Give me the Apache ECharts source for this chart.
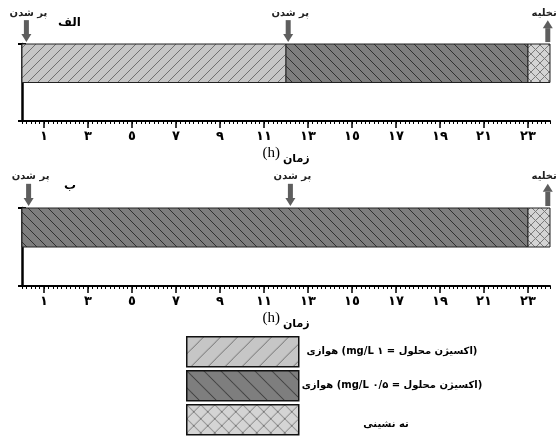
<!DOCTYPE html>
<html>
<head>
<meta charset="utf-8">
<script src="https://cdn.jsdelivr.net/npm/echarts@6/dist/echarts.min.js"></script>
<style>
  html, body { margin: 0; padding: 0; background: #fff; }
  #chart { width: 558px; height: 439px; }
</style>
</head>
<body>
<div id="chart"></div>
<script>
// hours shown on the time axis
const tickHours = [1, 3, 5, 7, 9, 11, 13, 15, 17, 19, 21, 23];
const tickLabels = ['١', '٣', '٥', '٧', '٩', '١١', '١٣', '١٥', '١٧', '١٩', '٢١', '٢٣'];

// panel الف : phases (0 = aerobic 1 mg/L, 1 = aerobic 0.5 mg/L, 2 = settling)
const aStart = [0, 12, 23];
const aEnd = [12, 23, 24];
const aPhase = [0, 1, 2];
// panel ب
const bStart = [0, 23];
const bEnd = [23, 24];
const bPhase = [1, 2];

// events: fill (down arrow) and drain (up arrow)
const aFill = [0.2, 12.1];
const aDrain = [23.9];
const bFill = [0.3, 12.2];
const bDrain = [23.9];

const legendNames = [
    'هوازی (mg/L ۱ = اکسیژن محلول)',
    'هوازی (mg/L ۰/۵ = اکسیژن محلول)',
    'ته نشینی'
];

// hatch patterns drawn on small canvases
function hatch(size, bg, fg, dirs, lw) {
    const c = document.createElement('canvas');
    c.width = size;
    c.height = size;
    const ctx = c.getContext('2d');
    ctx.fillStyle = bg;
    ctx.fillRect(0, 0, size, size);
    ctx.strokeStyle = fg;
    ctx.lineWidth = lw;
    dirs.forEach(d => {
        for (let k = -1; k <= 1; k++) {
            ctx.beginPath();
            if (d === '/') {
                ctx.moveTo(k * size, size);
                ctx.lineTo(k * size + size, 0);
            } else {
                ctx.moveTo(k * size, 0);
                ctx.lineTo(k * size + size, size);
            }
            ctx.stroke();
        }
    });
    return { image: c, repeat: 'repeat' };
}

const patterns = [
    hatch(10, '#c6c6c6', '#707070', ['/'], 1),
    hatch(10, '#7e7e7e', '#303030', ['\\'], 1),
    hatch(9, '#d4d4d4', '#7a7a7a', ['/', '\\'], 1)
];
const bigPatterns = [
    hatch(17, '#c6c6c6', '#6e6e6e', ['/'], 1),
    hatch(17, '#7e7e7e', '#2e2e2e', ['\\'], 1),
    hatch(14, '#d4d4d4', '#7a7a7a', ['/', '\\'], 1)
];

const chart = echarts.init(document.getElementById('chart'));

function segRender(params, api) {
    const p0 = api.coord([api.value(0), 2]);
    const p1 = api.coord([api.value(1), 1]);
    return {
        type: 'rect',
        shape: { x: p0[0], y: p0[1], width: p1[0] - p0[0], height: p1[1] - p0[1] },
        style: { fill: patterns[api.value(2)], stroke: '#222', lineWidth: 1 }
    };
}

function arrowRender(params, api) {
    const up = api.value(1) === 1;
    const top = api.coord([api.value(0), 2.62]);
    const bot = api.coord([api.value(0), 2.05]);
    const x = top[0];
    const head = 8;
    let shaft, tri;
    if (up) {
        shaft = { x: x - 2.5, y: top[1] + head, width: 5, height: bot[1] - top[1] - head };
        tri = [[x - 5, top[1] + head], [x + 5, top[1] + head], [x, top[1]]];
    } else {
        shaft = { x: x - 2.5, y: top[1], width: 5, height: bot[1] - top[1] - head };
        tri = [[x - 5, bot[1] - head], [x + 5, bot[1] - head], [x, bot[1]]];
    }
    return {
        type: 'group',
        children: [
            { type: 'rect', shape: shaft, style: { fill: '#5e5e5e' } },
            { type: 'polygon', shape: { points: tri }, style: { fill: '#5e5e5e' } },
            {
                type: 'text',
                style: {
                    x: up ? x + 9 : x + 2,
                    y: top[1] - 7,
                    text: up ? 'تخلیه' : 'پر شدن',
                    fontFamily: 'DejaVu Sans',
                    fontSize: 10,
                    fontWeight: 'bold',
                    fill: '#222',
                    align: up ? 'right' : 'center',
                    verticalAlign: 'middle'
                }
            }
        ]
    };
}

function mainX(gridIndex) {
    return {
        type: 'value', gridIndex: gridIndex, min: 0, max: 24, interval: 1,
        position: 'bottom',
        name: '{h|(h)}{f|زمان}',
        nameLocation: 'middle',
        nameGap: 21,
        nameTextStyle: {
            rich: {
                h: { fontFamily: 'Liberation Serif', fontSize: 15, color: '#000' },
                f: { fontFamily: 'DejaVu Sans', fontSize: 11, fontWeight: 'bold', color: '#000', padding: [12, 0, 0, 3] }
            }
        },
        axisLine: { show: true, lineStyle: { color: '#000', width: 2 } },
        axisTick: { show: true, length: 3, lineStyle: { color: '#000', width: 1 } },
        minorTick: { show: true, splitNumber: 5, length: 3, lineStyle: { color: '#000', width: 1 } },
        splitLine: { show: false },
        axisLabel: {
            margin: 9,
            fontFamily: 'DejaVu Sans',
            fontSize: 13,
            fontWeight: 'bold',
            color: '#000',
            formatter: v => {
                const i = tickHours.indexOf(v);
                return i >= 0 ? tickLabels[i] : '';
            }
        }
    };
}

function longTickX(gridIndex) {
    return {
        type: 'value', gridIndex: gridIndex, min: 0, max: 24, interval: 1,
        position: 'bottom', offset: 0,
        axisLine: { show: false },
        axisTick: { show: true, customValues: tickHours, length: 7, lineStyle: { color: '#000', width: 1.5 } },
        axisLabel: { show: false },
        splitLine: { show: false }
    };
}

function yAxes(gridIndex) {
    return [{
        type: 'value', gridIndex: gridIndex, min: 0, max: 2, interval: 2,
        position: 'left',
        axisLine: { show: true, lineStyle: { color: '#000', width: 2.5 } },
        axisTick: { show: true, length: 4, lineStyle: { color: '#000', width: 2 } },
        axisLabel: { show: false },
        splitLine: { show: false }
    }, {
        type: 'value', gridIndex: gridIndex, min: 0, max: 2, interval: 2,
        position: 'left', offset: 0,
        axisLine: { show: false },
        axisTick: { show: true, inside: true, length: 4, lineStyle: { color: '#000', width: 2 } },
        axisLabel: { show: false },
        splitLine: { show: false }
    }];
}

const legendTop = [336, 370, 404];
const legendGraphics = [];
legendTop.forEach((t, i) => {
    legendGraphics.push({
        type: 'rect',
        left: 186, top: t,
        shape: { width: 112, height: 30 },
        style: { fill: bigPatterns[i], stroke: '#111', lineWidth: 1.5 }
    });
    legendGraphics.push({
        type: 'text',
        x: i === 2 ? 386 : 392,
        y: t + (i === 2 ? 20 : 15),
        style: {
            text: legendNames[i],
            fontFamily: 'DejaVu Sans',
            fontSize: 10,
            fontWeight: 'bold',
            fill: '#000',
            align: 'center',
            verticalAlign: 'middle'
        }
    });
});

chart.setOption({
    animation: false,
    grid: [
        { left: 22, top: 44, width: 528, height: 77 },
        { left: 22, top: 208, width: 528, height: 78 }
    ],
    xAxis: [mainX(0), longTickX(0), mainX(1), longTickX(1)],
    yAxis: yAxes(0).concat(yAxes(1)),
    graphic: [
        { type: 'text', left: 58, top: 17, style: { text: 'الف', fontFamily: 'DejaVu Sans', fontSize: 12, fontWeight: 'bold', fill: '#000' } },
        { type: 'text', left: 64, top: 180, style: { text: 'ب', fontFamily: 'DejaVu Sans', fontSize: 12, fontWeight: 'bold', fill: '#000' } }
    ].concat(legendGraphics),
    series: [
        {
            type: 'custom', xAxisIndex: 0, yAxisIndex: 0,
            renderItem: segRender, encode: { x: [0, 1] },
            data: aStart.map((s, i) => [s, aEnd[i], aPhase[i]])
        },
        {
            type: 'custom', xAxisIndex: 0, yAxisIndex: 0, clip: false,
            renderItem: arrowRender, encode: { x: 0 },
            data: aFill.map(t => [t, 0]).concat(aDrain.map(t => [t, 1]))
        },
        {
            type: 'custom', xAxisIndex: 2, yAxisIndex: 2,
            renderItem: segRender, encode: { x: [0, 1] },
            data: bStart.map((s, i) => [s, bEnd[i], bPhase[i]])
        },
        {
            type: 'custom', xAxisIndex: 2, yAxisIndex: 2, clip: false,
            renderItem: arrowRender, encode: { x: 0 },
            data: bFill.map(t => [t, 0]).concat(bDrain.map(t => [t, 1]))
        }
    ]
});
</script>
</body>
</html>
